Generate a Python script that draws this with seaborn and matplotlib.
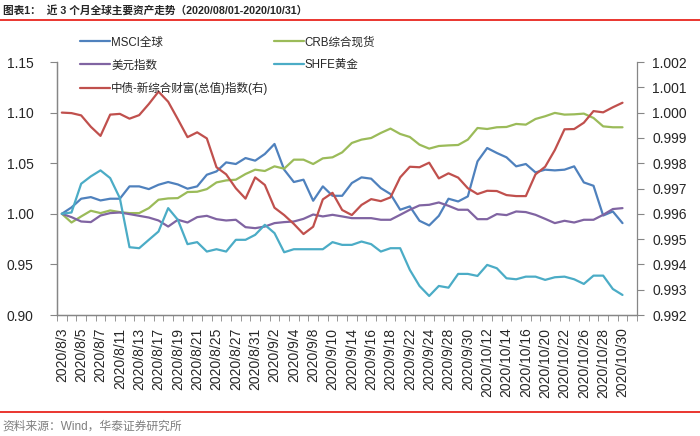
import matplotlib
matplotlib.use("Agg")
import matplotlib.pyplot as plt
import matplotlib.ticker as mticker
from matplotlib.lines import Line2D
import seaborn as sns

# trading days (China calendar), 2020/08/03 - 2020/10/30
aug_days = [3, 4, 5, 6, 7, 10, 11, 12, 13, 14, 17, 18, 19, 20, 21, 24, 25, 26, 27, 28, 31]
sep_days = [1, 2, 3, 4, 7, 8, 9, 10, 11, 14, 15, 16, 17, 18, 21, 22, 23, 24, 25, 28, 29, 30]
oct_days = [9, 12, 13, 14, 15, 16, 19, 20, 21, 22, 23, 26, 27, 28, 29, 30]
dates = ([f"2020/8/{d}" for d in aug_days] + [f"2020/9/{d}" for d in sep_days]
         + [f"2020/10/{d}" for d in oct_days])

msci = [1.000, 1.0063, 1.0149, 1.0165, 1.0132, 1.0149, 1.0149, 1.0271, 1.0271, 1.0244,
        1.0287, 1.0314, 1.0290, 1.0248, 1.0271, 1.0386, 1.0419, 1.0508, 1.0492, 1.0551,
        1.0525, 1.0591, 1.0690, 1.0436, 1.0314, 1.0337, 1.0129, 1.0271, 1.0178, 1.0178,
        1.0304, 1.0360, 1.0347, 1.0254, 1.0195, 1.0040, 1.0073, 0.9931, 0.9885, 0.9980,
        1.0149, 1.0122, 1.0172, 1.0518, 1.0650, 1.0601, 1.0558, 1.0469, 1.0492, 1.0409,
        1.0436, 1.0429, 1.0436, 1.0469, 1.0310, 1.0277, 0.9983, 1.0023, 0.9908]
crb = [1.000, 0.9914, 0.9974, 1.0030, 1.0007, 1.0033, 1.0017, 1.0007, 1.0007, 1.0056,
       1.0139, 1.0152, 1.0155, 1.0215, 1.0218, 1.0244, 1.0310, 1.0330, 1.0337, 1.0393,
       1.0436, 1.0423, 1.0469, 1.0446, 1.0535, 1.0535, 1.0492, 1.0548, 1.0558, 1.0607,
       1.0700, 1.0733, 1.0749, 1.0799, 1.0842, 1.0789, 1.0759, 1.0683, 1.0644, 1.0670,
       1.0676, 1.0680, 1.0733, 1.0848, 1.0838, 1.0855, 1.0858, 1.0888, 1.0881, 1.0937,
       1.0964, 1.0997, 1.0980, 1.0983, 1.0990, 1.0947, 1.0864, 1.0855, 1.0855]
usd = [1.000, 0.9967, 0.9924, 0.9918, 0.9983, 1.0007, 1.0013, 0.9997, 0.9980, 0.9963,
       0.9934, 0.9874, 0.9941, 0.9914, 0.9967, 0.9980, 0.9947, 0.9934, 0.9941, 0.9868,
       0.9858, 0.9874, 0.9908, 0.9918, 0.9924, 0.9950, 0.9993, 0.9974, 0.9990, 0.9974,
       0.9957, 0.9957, 0.9957, 0.9941, 0.9941, 0.9990, 1.0040, 1.0083, 1.0089, 1.0112,
       1.0079, 1.0040, 1.0040, 0.9947, 0.9947, 0.9997, 0.9987, 1.0023, 1.0017, 0.9990,
       0.9950, 0.9908, 0.9931, 0.9914, 0.9941, 0.9941, 0.9990, 1.0047, 1.0056]
gold = [1.000, 1.0013, 1.0297, 1.0370, 1.0429, 1.0353, 1.0155, 0.9670, 0.9660, 0.9743,
        0.9825, 1.0056, 0.9941, 0.9700, 0.9720, 0.9627, 0.9650, 0.9627, 0.9743, 0.9743,
        0.9792, 0.9891, 0.9809, 0.9620, 0.9650, 0.9650, 0.9650, 0.9650, 0.9720, 0.9693,
        0.9693, 0.9726, 0.9700, 0.9627, 0.9660, 0.9660, 0.9446, 0.9287, 0.9188, 0.9287,
        0.9270, 0.9406, 0.9406, 0.9386, 0.9495, 0.9462, 0.9363, 0.9353, 0.9379, 0.9379,
        0.9347, 0.9373, 0.9379, 0.9353, 0.9307, 0.9389, 0.9389, 0.9257, 0.9198]
bond = [1.0000, 0.99998, 0.99989, 0.99944, 0.99908, 0.99992, 0.99995, 0.99976, 0.99990, 1.00034,
        1.00083, 1.00043, 0.99974, 0.99903, 0.99922, 0.99898, 0.99784, 0.99756, 0.99701, 0.99660,
        0.99744, 0.99714, 0.99624, 0.99595, 0.99560, 0.99520, 0.99549, 0.99657, 0.99683, 0.99615,
        0.99595, 0.99635, 0.99658, 0.99650, 0.99665, 0.99744, 0.99786, 0.99784, 0.99802, 0.99740,
        0.99760, 0.99743, 0.99701, 0.99678, 0.99691, 0.99690, 0.99674, 0.99670, 0.99670, 0.99756,
        0.99786, 0.99852, 0.99934, 0.99935, 0.99960, 1.00006, 1.00001, 1.00021, 1.00039]

idx = list(range(len(dates)))

sns.set_style("ticks")
plt.rcParams['font.family'] = ['Liberation Sans', 'Noto Sans CJK SC']
plt.rcParams['axes.unicode_minus'] = False

spine_col = '#868686'
fig = plt.figure(figsize=(7, 4.36), dpi=100)
ax = fig.add_axes([57 / 700, 1 - 315 / 436, 580 / 700, 253 / 436])
ax2 = ax.twinx()

lw = 1.6
sns.lineplot(x=idx, y=msci, ax=ax, color='#4F81BD', lw=lw, label='MSCI全球', legend=False)
sns.lineplot(x=idx, y=crb, ax=ax, color='#9BBB59', lw=lw, label='CRB综合现货', legend=False)
sns.lineplot(x=idx, y=usd, ax=ax, color='#8064A2', lw=lw, label='美元指数', legend=False)
sns.lineplot(x=idx, y=gold, ax=ax, color='#4BACC6', lw=lw, label='SHFE黄金', legend=False)
sns.lineplot(x=idx, y=bond, ax=ax2, color='#C0504D', lw=lw, label='中债-新综合财富(总值)指数(右)', legend=False)

# one empty category after the last date, like the source
ax.set_xlim(-0.5, len(dates) + 0.5)
ax.set_ylim(0.90, 1.15)
ax2.set_ylim(0.992, 1.002)
ax.yaxis.set_major_locator(mticker.MultipleLocator(0.05))
ax.yaxis.set_major_formatter(mticker.FormatStrFormatter('%.2f'))
ax2.yaxis.set_major_locator(mticker.MultipleLocator(0.001))
ax2.yaxis.set_major_formatter(mticker.FormatStrFormatter('%.3f'))

ax.set_xticks(idx[::2])
ax.set_xticklabels(dates[::2], rotation=90, fontsize=10)
ax.set_xticks([i - 0.5 for i in range(len(dates) + 2)], minor=True)
ax.tick_params(axis='x', which='major', length=0, pad=9)
ax.tick_params(axis='x', which='minor', length=4, color=spine_col, direction='out')
ax.tick_params(axis='y', labelsize=10, length=5, color=spine_col, pad=12)
ax2.tick_params(axis='y', labelsize=10, length=5, color=spine_col, pad=6)

for a in (ax, ax2):
    a.set_xlabel('')
    a.set_ylabel('')
    a.spines['top'].set_visible(False)
    for s in ('left', 'right', 'bottom'):
        a.spines[s].set_color(spine_col)
        a.spines[s].set_linewidth(0.9)
ax.spines['right'].set_visible(False)

h1, l1 = ax.get_legend_handles_labels()
h2, l2 = ax2.get_legend_handles_labels()
order = [0, 2, 4, 1, 3]
hs = h1 + h2
ls = l1 + l2
fig.legend([hs[i] for i in order], [ls[i] for i in order], ncol=2,
           loc='upper left', bbox_to_anchor=(80 / 700, 1 - 36.5 / 436),
           frameon=False, fontsize=8.3, handlelength=2.6, handletextpad=0.1,
           labelspacing=0.95, columnspacing=0.45, borderpad=0, borderaxespad=0)

# header / footer
fig.text(0.004, 1 - 10 / 436, '图表1：  近 3 个月全球主要资产走势（2020/08/01-2020/10/31）',
         fontsize=7.7, fontweight='bold', va='center', ha='left')
fig.add_artist(Line2D([0, 1], [1 - 20 / 436] * 2, transform=fig.transFigure,
                      color='#E8251F', lw=1.3))
fig.add_artist(Line2D([0, 1], [1 - 411.5 / 436] * 2, transform=fig.transFigure,
                      color='#E8251F', lw=1.3))
fig.text(0.004, 1 - 427 / 436, '资料来源：Wind，华泰证券研究所', fontsize=8.5,
         color='#7F7F7F', va='center', ha='left')

fig.savefig('out.png', dpi=100)
